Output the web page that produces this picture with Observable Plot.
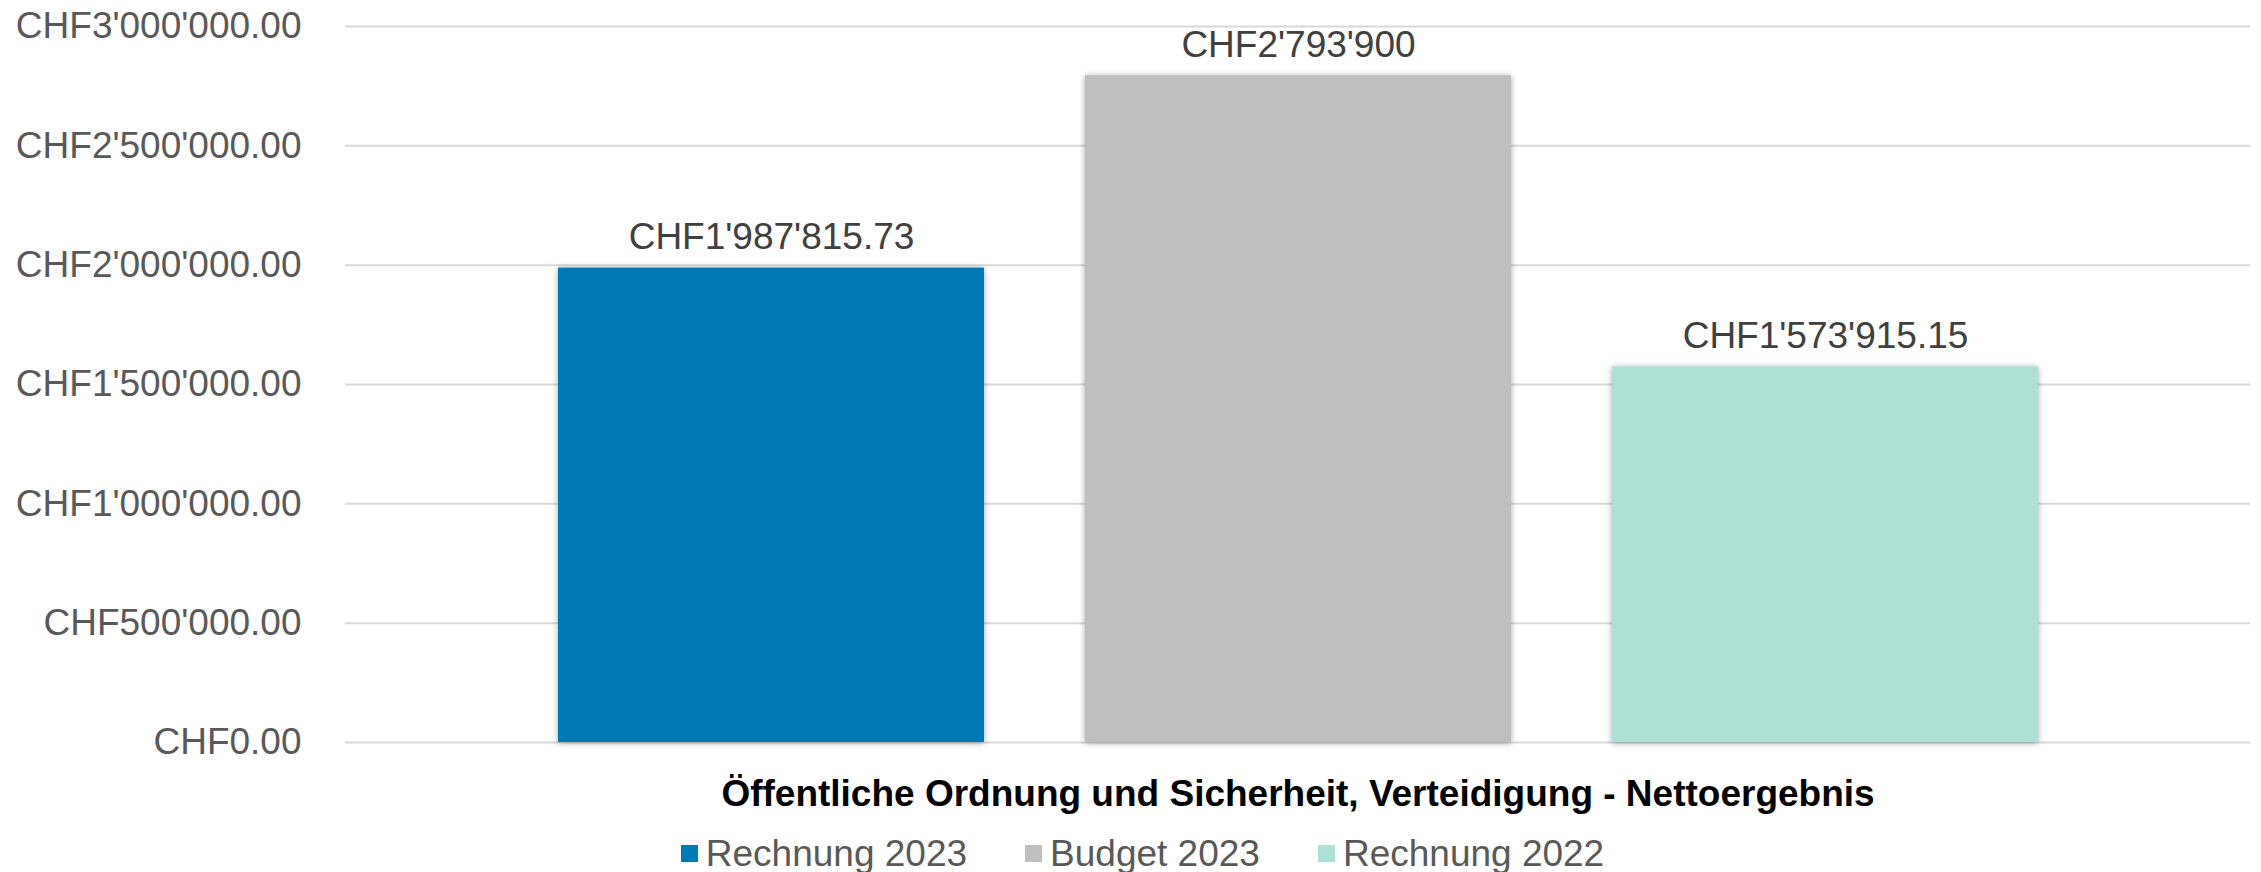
<!DOCTYPE html>
<html>
<head>
<meta charset="utf-8">
<script src="https://cdn.jsdelivr.net/npm/d3@7"></script>
<script src="https://cdn.jsdelivr.net/npm/@observablehq/plot@0.6"></script>
<style>
  html, body { margin: 0; padding: 0; background: #fff; }
  body { font-family: "Liberation Sans", Arial, sans-serif; width: 2261px; height: 872px; overflow: hidden; }
  #chart svg { display: block; }
  .legend { display: flex; justify-content: center; align-items: center; gap: 58px; font-size: 37px; line-height: 37px; color: #595959; padding-left: 24px; margin-top: 15px; }
  .legend .item { display: flex; align-items: center; }
  .legend .sw { display: inline-block; width: 17px; height: 17px; margin-right: 8px; }
  g[aria-label="bar"] rect { filter: drop-shadow(0px 1px 3px rgba(0,0,0,0.35)); }
</style>
</head>
<body>
<div id="chart"></div>
<div class="legend" id="legend"></div>
<script>
const category = "Öffentliche Ordnung und Sicherheit, Verteidigung - Nettoergebnis";
const series = ["Rechnung 2023", "Budget 2023", "Rechnung 2022"];
const values = [1987815.73, 2793900, 1573915.15];
const decimals = [2, 0, 2];
const colors = ["#0079B5", "#BFBFBF", "#AEE1D6"];
const yTicks = [0, 500000, 1000000, 1500000, 2000000, 2500000, 3000000];

const chf = d3.formatLocale({decimal: ".", thousands: "'", grouping: [3], currency: ["CHF", ""]});
const data = series.map((s, i) => ({
  category,
  series: s,
  value: values[i],
  label: chf.format(`$,.${decimals[i]}f`)(values[i])
}));

const plot = Plot.plot({
  width: 2261,
  height: 820,
  marginTop: 26,
  marginBottom: 78,
  marginLeft: 345,
  marginRight: 11,
  style: {fontFamily: "Liberation Sans, Arial, sans-serif", fontSize: "37px", color: "#595959", background: "#fff"},
  fx: {domain: [category], paddingInner: 0, paddingOuter: 0, label: null},
  x: {domain: series, paddingInner: 0.192, paddingOuter: 0.4015, axis: null},
  y: {domain: [0, 3000000], label: null},
  color: {domain: series, range: colors},
  marks: [
    Plot.gridY(yTicks, {stroke: "#d9d9d9", strokeOpacity: 1, strokeWidth: 2}),
    Plot.axisY(yTicks, {tickSize: 0, tickPadding: 44, tickFormat: chf.format("$,.2f"), fill: "#595959", fontSize: 37, label: null}),
    Plot.axisFx({anchor: "bottom", tickSize: 0, tickPadding: 37, fontWeight: "bold", fill: "#000", fontSize: 37, label: null}),
    Plot.barY(data, {fx: "category", x: "series", y: "value", fill: "series"}),
    Plot.text(data, {fx: "category", x: "series", y: "value", text: "label", lineAnchor: "bottom", dy: -19, fill: "#404040", fontSize: 37})
  ]
});
document.getElementById("chart").appendChild(plot);

const legend = document.getElementById("legend");
series.forEach((s, i) => {
  const item = document.createElement("div");
  item.className = "item";
  const sw = document.createElement("span");
  sw.className = "sw";
  sw.style.background = colors[i];
  const t = document.createElement("span");
  t.textContent = s;
  item.appendChild(sw);
  item.appendChild(t);
  legend.appendChild(item);
});
</script>
</body>
</html>
